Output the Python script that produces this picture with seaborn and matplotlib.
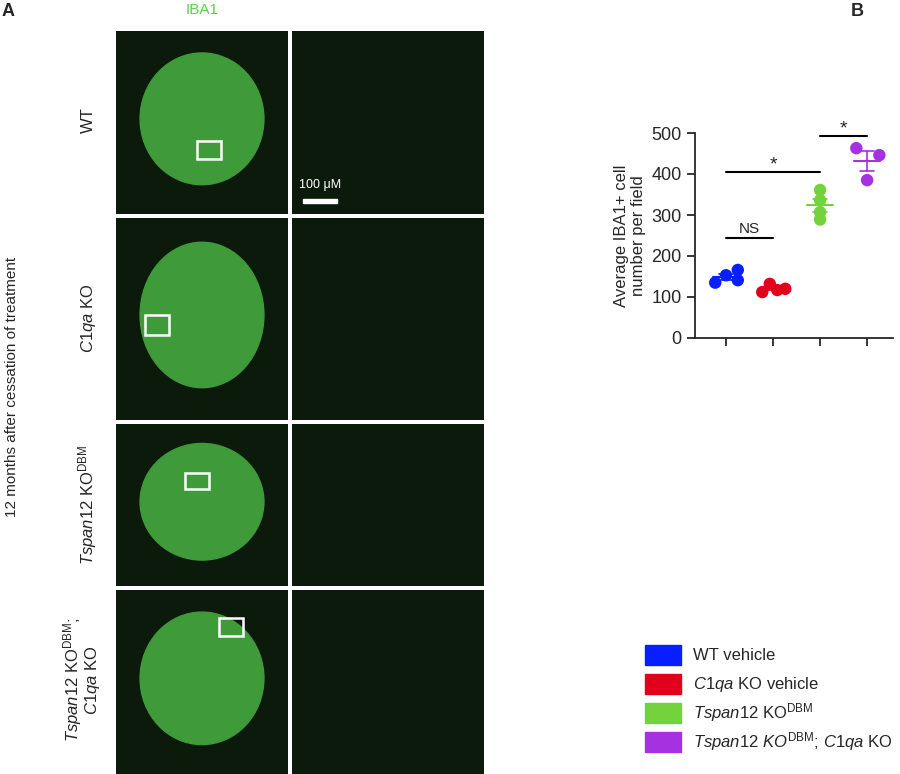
import numpy as np
import pandas as pd
import seaborn as sns
import matplotlib.pyplot as plt
from matplotlib.patches import Rectangle

colors = ["#0a1fff", "#e0001b", "#74d23c", "#a631e0"]
wt = [135, 153, 166, 141]
c1qa = [112, 132, 117, 120]
tspan = [361, 336, 307, 289]
double = [463, 446, 385]
# horizontal spread of the dots within each group
spread = [[-0.23, 0, 0.25, 0.25], [-0.23, -0.07, 0.09, 0.26], [0, 0, 0, 0], [-0.23, 0.26, 0]]

rows = [(wt, 0), (c1qa, 1), (tspan, 2), (double, 3)]
df = pd.DataFrame([(i, i + spread[i][j], v) for vals, i in rows for j, v in enumerate(vals)],
                  columns=["grp", "x", "val"])

sns.set_style("ticks")
plt.rcParams['font.family'] = ['Liberation Sans', 'DejaVu Sans']
plt.rcParams['mathtext.fontset'] = 'custom'
plt.rcParams['mathtext.it'] = 'Liberation Sans:italic'
plt.rcParams['mathtext.rm'] = 'Liberation Sans'
fig = plt.figure(figsize=(9, 7.74), dpi=100)

W, H = 900, 774
def fa(x0, y0, x1, y1):
    return fig.add_axes([x0 / W, 1 - y1 / H, (x1 - x0) / W, (y1 - y0) / H])

# panel A placeholders for micrographs
row_y = [(31, 214), (218, 420), (424, 586), (590, 774)]
boxes = [(0.47, 0.3), (0.17, 0.42), (0.4, 0.6), (0.6, 0.75)]
for (y0, y1), (bx, by) in zip(row_y, boxes):
    for (x0, x1) in [(116, 288), (292, 484)]:
        a = fa(x0, y0, x1, y1)
        a.set_facecolor("#0b1a0b")
        a.set_xticks([]); a.set_yticks([])
        for s in a.spines.values():
            s.set_visible(False)
    a0 = fa(116, y0, 288, y1)
    a0.add_patch(plt.Circle((0.5, 0.52), 0.36, color="#3f9a3a"))
    a0.add_patch(Rectangle((bx, by), 0.14, 0.1, fill=False, ec="white", lw=1.8))
    a0.set_xlim(0, 1); a0.set_ylim(0, 1)
    a0.axis("off")

fig.text(2 / W, 1 - 16 / H, "A", fontsize=13, fontweight="bold")
fig.text(851 / W, 1 - 16 / H, "B", fontsize=13, fontweight="bold")
fig.text(202 / W, 1 - 10 / H, "IBA1", color="#5fcf4f", fontsize=11, ha="center", va="center")
fig.text(12 / W, 0.5, "12 months after cessation of treatment", rotation=90, va="center", ha="center", fontsize=11)
fig.text(88 / W, 1 - 120 / H, "WT", rotation=90, va="center", ha="center", fontsize=12)
fig.text(88 / W, 1 - 318 / H, "$\\it{C1qa}$ KO", rotation=90, va="center", ha="center", fontsize=12)
fig.text(88 / W, 1 - 505 / H, "$\\it{Tspan12}$ KO$^{\\mathrm{DBM}}$", rotation=90, va="center", ha="center", fontsize=12)
fig.text(73 / W, 1 - 680 / H, "$\\it{Tspan12}$ KO$^{\\mathrm{DBM}}$;", rotation=90, va="center", ha="center", fontsize=12)
fig.text(93 / W, 1 - 680 / H, "$\\it{C1qa}$ KO", rotation=90, va="center", ha="center", fontsize=12)
fig.add_artist(Rectangle((303 / W, 1 - 203 / H), 34 / W, 4 / H, color="white"))
fig.text(320 / W, 1 - 188 / H, "100 μM", color="white", ha="center", fontsize=9)

# panel B
ax = fa(695, 133, 893, 338)
sns.scatterplot(data=df, x="x", y="val", hue="grp", palette=colors, s=80,
                edgecolor="none", legend=False, ax=ax, zorder=3)
for vals, i in rows:
    m = np.mean(vals); se = np.std(vals, ddof=1) / np.sqrt(len(vals))
    ax.plot([i - 0.27, i + 0.27], [m, m], color=colors[i], lw=1.5)
    ax.plot([i, i], [m - se, m + se], color=colors[i], lw=1.2)
    ax.plot([i - 0.15, i + 0.15], [m - se] * 2, color=colors[i], lw=1.2)
    ax.plot([i - 0.15, i + 0.15], [m + se] * 2, color=colors[i], lw=1.2)
ax.plot([0, 1], [243, 243], color="k", lw=1.5)
ax.text(0.5, 255, "NS", ha="center", fontsize=11)
ax.plot([0, 2], [405, 405], color="k", lw=1.5)
ax.text(1, 410, "*", ha="center", fontsize=14)
ax.plot([2, 3], [493, 493], color="k", lw=1.5)
ax.text(2.5, 498, "*", ha="center", fontsize=14)
ax.set_xlim(-0.66, 3.55)
ax.set_ylim(0, 500)
ax.set_yticks([0, 100, 200, 300, 400, 500])
ax.set_xticks([0, 1, 2, 3])
ax.set_xticklabels([])
ax.tick_params(labelsize=13, width=1.3, length=6)
ax.set_xlabel("")
ax.set_ylabel("Average IBA1+ cell\nnumber per field", fontsize=12)
sns.despine(ax=ax)
for s in ["left", "bottom"]:
    ax.spines[s].set_linewidth(1.3)

labels = ["WT vehicle", "$\\it{C1qa}$ KO vehicle", "$\\it{Tspan12}$ KO$^{\\mathrm{DBM}}$",
          "$\\it{Tspan12\\ KO}^{\\mathrm{DBM}}$; $\\it{C1qa}$ KO"]
for k, (lab, c) in enumerate(zip(labels, colors)):
    y = 655 + k * 29
    fig.add_artist(Rectangle((645 / W, 1 - (y + 10) / H), 36 / W, 20 / H, color=c))
    fig.text(693 / W, 1 - y / H, lab, va="center", fontsize=12)

fig.savefig("out.png", dpi=100)
